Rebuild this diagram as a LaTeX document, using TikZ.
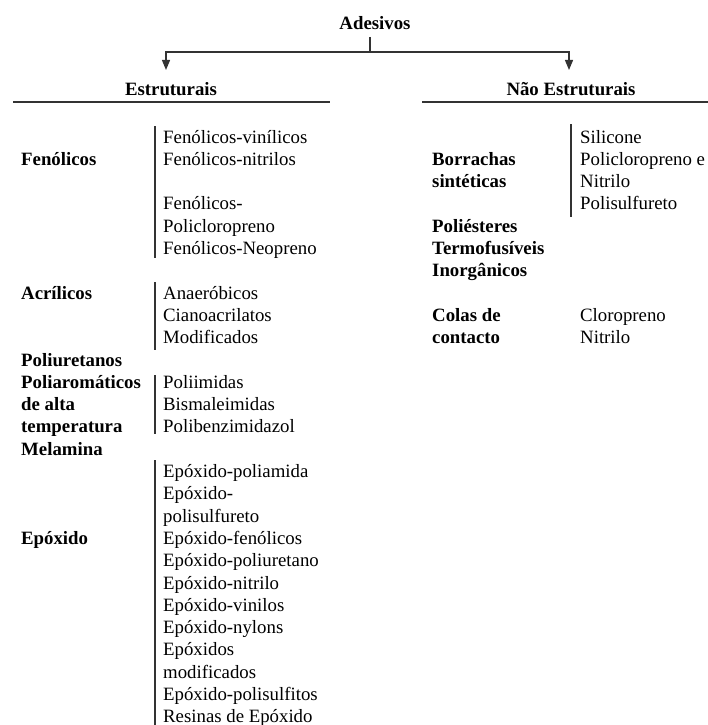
\documentclass[tikz,border=0pt]{standalone}
\usepackage{fontspec}
\setmainfont{Liberation Serif}
\usetikzlibrary{arrows.meta}
\tikzset{
  item/.style={anchor=base west,inner sep=0pt},
  grp/.style={item,font=\bfseries},
  head/.style={anchor=base,inner sep=0pt,font=\bfseries},
  rule/.style={black!80,line width=1.2pt},
}
\begin{document}
\begin{tikzpicture}[x=1pt,y=-1pt,>={Triangle[width=8pt,length=10pt]}]
\fontsize{18.8}{22.3}\selectfont
\useasboundingbox (0,0) rectangle (708,725);
% topo: Adesivos e as duas ramificacoes
\node[head] (ades) at (375,30) {Adesivos};
\coordinate (tick) at (370,37);
\coordinate (split) at (370,52);
\coordinate (tipL) at (166,70);
\coordinate (tipR) at (569,70);
\draw[rule] (tick) -- (split);
\draw[rule,->] (split) -| (tipL);
\draw[rule,->] (split) -| (tipR);
\node[head] (estr) at (171,95) {Estruturais};
\node[head] (naoestr) at (571,95) {Não Estruturais};
\draw[rule] (13,102) -- (330,102);
\draw[rule] (422,102) -- (708,102);
% coluna esquerda: grupos
\node[grp] (fen) at (21,165.3) {Fenólicos};
\node[grp] (acr) at (21,299.1) {Acrílicos};
\node[grp] (pur) at (21,366) {Poliuretanos};
\node[grp] (par1) at (21,388.3) {Poliaromáticos};
\node[grp] (par2) at (21,410.6) {de alta};
\node[grp] (par3) at (21,432.9) {temperatura};
\node[grp] (mel) at (21,455.2) {Melamina};
\node[grp] (epo) at (21,544.4) {Epóxido};
% coluna esquerda: subtipos
\draw[rule] (155,126) -- (155,258);
\node[item] (fen1) at (163,143) {Fenólicos-vinílicos};
\node[item] (fen2) at (163,165.3) {Fenólicos-nitrilos};
\node[item] (fen3) at (163,209.9) {Fenólicos-};
\node[item] (fen4) at (163,232.2) {Policloropreno};
\node[item] (fen5) at (163,254.5) {Fenólicos-Neopreno};
\draw[rule] (155,282) -- (155,350);
\node[item] (acr1) at (163,299.1) {Anaeróbicos};
\node[item] (acr2) at (163,321.4) {Cianoacrilatos};
\node[item] (acr3) at (163,343.7) {Modificados};
\draw[rule] (155,375) -- (155,434);
\node[item] (par4) at (163,388.3) {Poliimidas};
\node[item] (par5) at (163,410.6) {Bismaleimidas};
\node[item] (par6) at (163,432.9) {Polibenzimidazol};
\draw[rule] (155,460) -- (155,725);
\foreach \txt [count=\i from 0] in {Epóxido-poliamida,Epóxido-,polisulfureto,
  Epóxido-fenólicos,Epóxido-poliuretano,Epóxido-nitrilo,Epóxido-vinilos,
  Epóxido-nylons,Epóxidos,modificados,Epóxido-polisulfitos,Resinas de Epóxido}
  \node[item] (epo\i) at (163,{477.5+22.3*\i}) {\txt};
% coluna direita
\node[grp] (bor1) at (432,165.3) {Borrachas};
\node[grp] (bor2) at (432,187.6) {sintéticas};
\node[grp] (pol) at (432,232.2) {Poliésteres};
\node[grp] (ter) at (432,254.5) {Termofusíveis};
\node[grp] (ino) at (432,276.8) {Inorgânicos};
\node[grp] (col1) at (432,321.4) {Colas de};
\node[grp] (col2) at (432,343.7) {contacto};
\draw[rule] (571,124) -- (571,217);
\node[item] (bor3) at (580,143) {Silicone};
\node[item] (bor4) at (580,165.3) {Policloropreno e};
\node[item] (bor5) at (580,187.6) {Nitrilo};
\node[item] (bor6) at (580,209.9) {Polisulfureto};
\node[item] (col3) at (580,321.4) {Cloropreno};
\node[item] (col4) at (580,343.7) {Nitrilo};
\end{tikzpicture}
\end{document}
